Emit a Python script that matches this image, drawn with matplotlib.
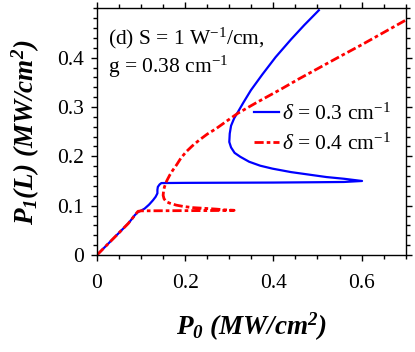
import matplotlib
matplotlib.use("Agg")
import matplotlib.pyplot as plt
from matplotlib.ticker import MultipleLocator

plt.rcParams['font.family'] = ['Liberation Serif', 'DejaVu Serif']
plt.rcParams['mathtext.fontset'] = 'custom'
plt.rcParams['mathtext.rm'] = 'Liberation Serif'
plt.rcParams['mathtext.it'] = 'Liberation Serif:italic'
plt.rcParams['mathtext.bf'] = 'Liberation Serif:bold'
plt.rcParams['mathtext.bfit'] = 'Liberation Serif:italic:bold'
plt.rcParams['mathtext.fallback'] = 'stix'

# delta = 0.3 cm^-1 (blue, solid)
p0_d03 = [0.0, 0.02, 0.04, 0.06, 0.071, 0.08, 0.086, 0.093, 0.100, 0.108, 0.118, 0.127,
          0.133, 0.137, 0.137, 0.138, 0.142, 0.146, 0.20, 0.30, 0.40, 0.50, 0.56, 0.601,
          0.56, 0.52, 0.488, 0.44, 0.398, 0.37, 0.345, 0.325, 0.312, 0.304, 0.300, 0.301,
          0.304, 0.311, 0.319, 0.332, 0.349, 0.375, 0.405, 0.44, 0.47, 0.503]
p1_d03 = [0.0, 0.018, 0.036, 0.054, 0.064, 0.074, 0.081, 0.087, 0.090, 0.094, 0.102, 0.111,
          0.118, 0.125, 0.132, 0.138, 0.143, 0.1458, 0.1462, 0.1465, 0.1468, 0.1475, 0.148, 0.150,
          0.1545, 0.158, 0.162, 0.168, 0.175, 0.181, 0.189, 0.199, 0.207, 0.218, 0.229, 0.246,
          0.262, 0.277, 0.289, 0.309, 0.334, 0.366, 0.401, 0.437, 0.466, 0.496]

# delta = 0.4 cm^-1 (red, dash-dot)
p0_d04 = [0.0, 0.02, 0.04, 0.06, 0.071, 0.08, 0.086, 0.093, 0.100, 0.15, 0.20, 0.25, 0.311,
          0.29, 0.27, 0.245, 0.217, 0.195, 0.180, 0.165, 0.157, 0.152, 0.150, 0.151, 0.153,
          0.158, 0.165, 0.172, 0.180, 0.190, 0.202, 0.216, 0.232, 0.250, 0.270, 0.295, 0.319,
          0.36, 0.417, 0.458, 0.503, 0.55, 0.60, 0.65, 0.70]
p1_d04 = [0.0, 0.018, 0.036, 0.054, 0.064, 0.074, 0.081, 0.0885, 0.0895, 0.0897, 0.0899, 0.090, 0.0905,
          0.0915, 0.093, 0.0945, 0.096, 0.0985, 0.101, 0.105, 0.108, 0.114, 0.121, 0.130, 0.138,
          0.150, 0.162, 0.172, 0.182, 0.196, 0.209, 0.221, 0.233, 0.245, 0.256, 0.272, 0.287,
          0.308, 0.336, 0.357, 0.379, 0.402, 0.426, 0.451, 0.476]

x_ticks = [0, 0.2, 0.4, 0.6]
x_tick_labels = ['0', '0.2', '0.4', '0.6']
y_ticks = [0, 0.1, 0.2, 0.3, 0.4]
y_tick_labels = ['0', '0.1', '0.2', '0.3', '0.4']

fig = plt.figure(figsize=(4.15, 3.52), dpi=100)
ax = fig.add_axes([0.2337, 0.2756, 0.9776 - 0.2337, 0.9764 - 0.2756])

ax.plot(p0_d03, p1_d03, color='#0000ff', lw=1.6, label=r'$\delta$ = 0.3 cm$^{-1}$')
ax.plot(p0_d04, p1_d04, color='#ff0000', lw=2.0, linestyle=(0, (3.3, 1.1, 1.3, 1.1)),
        label=r'$\delta$ = 0.4 cm$^{-1}$')

ax.set_xlim(0, 0.7)
ax.set_ylim(0, 0.5)
ax.set_xticks(x_ticks)
ax.set_xticklabels(x_tick_labels)
ax.set_yticks(y_ticks)
ax.set_yticklabels(y_tick_labels)
ax.xaxis.set_minor_locator(MultipleLocator(0.05))
ax.yaxis.set_minor_locator(MultipleLocator(0.02))
ax.tick_params(which='both', direction='out', top=True, right=True, labeltop=False,
               labelright=False, labelsize=15.5, width=1.0)
ax.tick_params(which='major', length=4.5)
ax.tick_params(which='minor', length=3)
ax.tick_params(axis='x', which='major', pad=9)
ax.tick_params(axis='y', which='major', pad=5)
for s in ax.spines.values():
    s.set_linewidth(1.0)

ax.set_xlabel(r'$\bfit{P_0}\ \bfit{(MW/cm^2)}$', fontsize=19.5, labelpad=13)
ax.set_ylabel(r'$\bfit{P_1(L)}\ \bfit{(MW/cm^2)}$', fontsize=19.5, labelpad=11)

ax.text(0.035, 0.88, '(d) S = 1 W$^{-1}$/cm,', transform=ax.transAxes, fontsize=15.5,
        va='center', ha='left')
ax.text(0.035, 0.762, 'g = 0.38 cm$^{-1}$', transform=ax.transAxes, fontsize=15.5,
        va='center', ha='left')

ax.legend(loc='center left', bbox_to_anchor=(0.51, 0.511), frameon=False, fontsize=15.5,
          handlelength=1.15, handletextpad=0.15, labelspacing=0.4, borderaxespad=0,
          borderpad=0)

fig.savefig('out.png', dpi=100)
